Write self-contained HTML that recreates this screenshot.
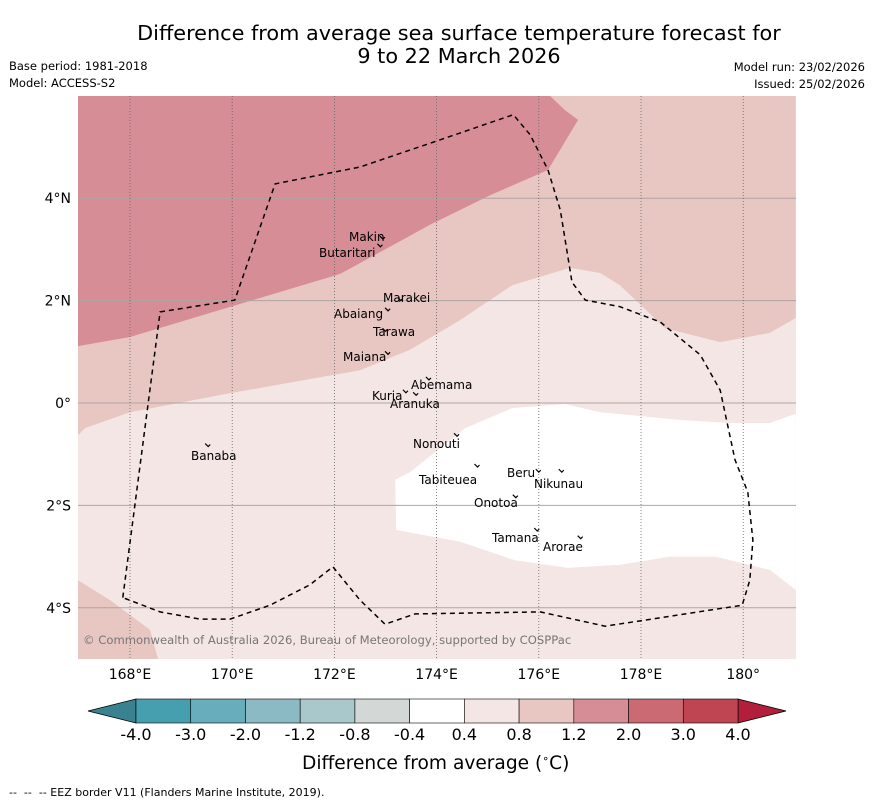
<!DOCTYPE html>
<html><head><meta charset="utf-8"><style>
body{margin:0;background:#fff;font-family:"DejaVu Sans","Liberation Sans",sans-serif;}
#wrap{position:relative;width:873px;height:804px;overflow:hidden}
.t{position:absolute;white-space:nowrap}
svg text{font-family:"DejaVu Sans","Liberation Sans",sans-serif}
</style></head><body>
<div id="wrap">
<div class="t" style="left:0;width:918px;top:22px;text-align:center;font-size:20.8px;line-height:23px;color:#000">Difference from average sea surface temperature forecast for<br>9 to 22 March 2026</div>
<div class="t" style="left:9px;top:59px;font-size:11.5px">Base period: 1981-2018</div>
<div class="t" style="left:9px;top:76px;font-size:11.5px">Model: ACCESS-S2</div>
<div class="t" style="right:8px;top:60px;font-size:11.5px">Model run: 23/02/2026</div>
<div class="t" style="right:8px;top:77px;font-size:11.5px">Issued: 25/02/2026</div>
<svg id="map" width="873" height="804" style="position:absolute;left:0;top:0"></svg>
<div class="t" style="left:302px;top:752px;font-size:18.6px">Difference from average (<sup style="font-size:11px">∘</sup>C)</div>
<div class="t" style="left:9px;top:786px;font-size:11px">-- &nbsp;-- &nbsp;-- EEZ border V11 (Flanders Marine Institute, 2019).</div>
</div>
<script>
const lonTicks=[168,170,172,174,176,178,180];
const latTicks=[4,2,0,-2,-4];
const cbLevels=["-4.0","-3.0","-2.0","-1.2","-0.8","-0.4","0.4","0.8","1.2","2.0","3.0","4.0"];
const cbColors=["#469faf","#68adbb","#8bbac5","#a9c8cc","#d3d8d7","#ffffff","#f4e6e4","#e8c6c2","#d78d95","#cc6a74","#c04553"];
const darkRegion=[[166.98,1.11],[168,1.29],[170,1.89],[172.11,2.52],[173.87,3.48],[175.05,4.06],[176.18,4.55],[176.77,5.53],[176.51,5.72],[176.22,6.0],[166.98,6.0]];
const lightRegion=[[166.98,-0.63],[167.12,-0.49],[168,-0.18],[170,0.2],[172.5,0.64],[173.48,1.04],[174.46,1.62],[175.48,2.30],[176.61,2.64],[177.2,2.54],[177.59,2.30],[178.47,1.46],[179.55,1.19],[180.52,1.37],[181.03,1.66],[181.03,6.0],[166.98,6.0]];
const lightRegion2=[[166.98,-3.46],[167.61,-3.85],[168.39,-4.43],[168.55,-5.0],[166.98,-5.0]];
const whiteRegion=[[173.19,-1.50],[173.48,-1.35],[174.07,-0.88],[174.56,-0.49],[175.48,-0.10],[176.51,-0.02],[177.2,-0.18],[178.76,-0.33],[179.74,-0.39],[180.52,-0.39],[181.03,-0.21],[181.03,-3.65],[180.52,-3.26],[179.45,-3.0],[178.57,-3.0],[177.59,-3.16],[176.57,-3.22],[175.53,-3.07],[174.46,-2.71],[173.21,-2.48]];
const eez=[[167.86,-3.80],[168.59,1.78],[170.05,2.01],[170.84,4.28],[172.5,4.61],[174.07,5.14],[175.5,5.63],[175.83,5.24],[176.18,4.55],[176.42,3.77],[176.65,2.36],[176.91,2.01],[177.59,1.88],[178.38,1.58],[179.16,0.94],[179.55,0.25],[179.84,-1.11],[180.09,-1.74],[180.19,-2.68],[180.13,-3.46],[179.98,-3.95],[177.3,-4.36],[176.03,-4.08],[173.58,-4.12],[172.99,-4.32],[172.5,-3.85],[171.97,-3.20],[171.52,-3.55],[170.74,-3.95],[169.96,-4.22],[169.37,-4.22],[168.59,-4.08],[167.86,-3.80]];
const islands=[["Makin",172.95,3.2,349,231],["Butaritari",172.9,3.05,319,247],["Marakei",173.3,2.0,383,292],["Abaiang",173.05,1.8,334,308],["Tarawa",173.0,1.4,373,326],["Maiana",173.05,0.95,343,351],["Abemama",173.85,0.45,411,379],["Kuria",173.4,0.2,372,390],["Aranuka",173.6,0.15,390,398],["Nonouti",174.4,-0.65,413,438],["Tabiteuea",174.8,-1.25,419,474],["Beru",176.0,-1.35,507,467],["Nikunau",176.45,-1.35,534,478],["Onotoa",175.55,-1.85,474,497],["Tamana",175.97,-2.5,492,532],["Arorae",176.82,-2.65,543,541],["Banaba",169.53,-0.85,191,450]];
const X=l=>130+(l-168)*51.1, Y=a=>403-a*51.2;
const svg=document.getElementById('map');const NS='http://www.w3.org/2000/svg';
function mk(t,at,p){const e=document.createElementNS(NS,t);for(const k in at)e.setAttribute(k,at[k]);(p||svg).appendChild(e);return e;}
const pts=a=>a.map(p=>X(p[0]).toFixed(1)+','+Y(p[1]).toFixed(1)).join(' ');
const clip=mk('clipPath',{id:'mc'});mk('rect',{x:78,y:96,width:718,height:563},clip);
const g=mk('g',{'clip-path':'url(#mc)'});
let e=mk('rect',{x:78,y:96,width:718,height:563,fill:'#f4e6e4'},g);


e=mk('polygon',{points:pts(lightRegion),fill:'#e8c6c2'},g);


e=mk('polygon',{points:pts(lightRegion2),fill:'#e8c6c2'},g);


e=mk('polygon',{points:pts(darkRegion),fill:'#d78d95'},g);


e=mk('polygon',{points:pts(whiteRegion),fill:'#ffffff'},g);


latTicks.forEach(v=>{e=mk('line',{x1:78,x2:796,y1:Y(v),y2:Y(v),stroke:'#b0a4a4','stroke-width':1},g);


const t=mk('text',{x:71,y:Y(v)+5,'text-anchor':'end','font-size':14});t.textContent=v>0?v+'°N':v<0?(-v)+'°S':'0°';

});
lonTicks.forEach(v=>{e=mk('line',{x1:X(v),x2:X(v),y1:96,y2:659,stroke:'#666','stroke-width':0.8,'stroke-dasharray':'1,2'},g);


const t=mk('text',{x:X(v),y:679,'text-anchor':'middle','font-size':14});t.textContent=v==180?'180°':v+'°E';

});
e=mk('polyline',{points:pts(eez),fill:'none',stroke:'#000','stroke-width':1.5,'stroke-dasharray':'5,4'},g);


islands.forEach(d=>{e=mk('path',{d:`M${X(d[1])-3},${Y(d[2])-3} l3,3 l2,-2`,fill:'none',stroke:'#000','stroke-width':1.2},g);


const t=mk('text',{x:d[3],y:d[4]+10,'font-size':12});t.textContent=d[0];

});
e=mk('text',{x:83,y:644,'font-size':11.6,fill:'#777'},g);e.textContent='© Commonwealth of Australia 2026, Bureau of Meteorology, supported by COSPPac';


const cx0=136,cx1=738,cy=699,ch=24,bw=(cx1-cx0)/cbColors.length;
e=mk('polygon',{points:`${cx0},${cy} 88,${cy+ch/2} ${cx0},${cy+ch}`,fill:'#3a8290',stroke:'#000','stroke-width':0.8});


e=mk('polygon',{points:`${cx1},${cy} 786,${cy+ch/2} ${cx1},${cy+ch}`,fill:'#b11f3a',stroke:'#000','stroke-width':0.8});


cbColors.forEach((c,i)=>{e=mk('rect',{x:cx0+i*bw,y:cy,width:bw,height:ch,fill:c,stroke:'#000','stroke-width':0.6});

});
cbLevels.forEach((l,i)=>{const t=mk('text',{x:cx0+i*bw,y:740,'text-anchor':'middle','font-size':16});t.textContent=l;

});
</script>
</body></html>
